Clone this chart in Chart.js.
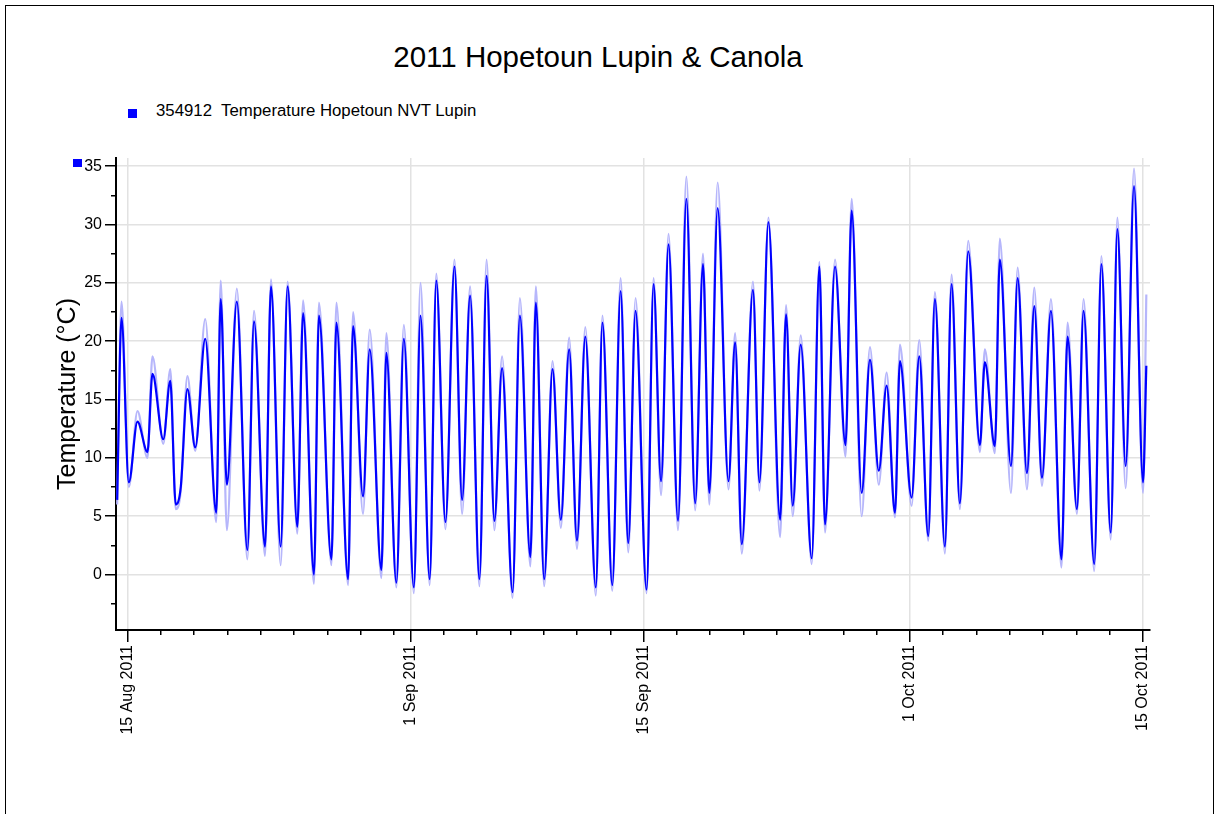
<!DOCTYPE html>
<html>
<head>
<meta charset="utf-8">
<title>2011 Hopetoun Lupin &amp; Canola</title>
<script src="https://cdn.jsdelivr.net/npm/chart.js@4.4.1/dist/chart.umd.min.js"></script>
<style>
    body { margin: 0; background: #fff; font-family: "Liberation Sans", Arial, sans-serif; }
    #page { position: relative; width: 1219px; height: 814px; overflow: hidden; }
    #frame { position: absolute; left: 5px; top: 5px; width: 1207px; height: 900px;
             border-left: 1px solid #000; border-top: 1px solid #000; border-right: 1px solid #000; }
    #title { position: absolute; left: 0; top: 42px; width: 1196px; text-align: center;
             font-size: 29.5px; line-height: 30px; color: #000; }
    #legend { position: absolute; left: 128px; top: 101px; font-size: 16.8px; line-height: 20px; color: #000; white-space: pre; }
    #legend .box { position: absolute; left: 0; top: 8px; width: 9px; height: 9px; background: #0000ff; }
    #legend .txt { position: absolute; left: 28px; top: 0; }
    #axis-marker { position: absolute; left: 73px; top: 159px; width: 9px; height: 8px; background: #0000ff; }
    #chart { position: absolute; left: 0; top: 0; }
</style>
</head>
<body>
<div id="page">
    <div id="frame"></div>
    <div id="title">2011 Hopetoun Lupin &amp; Canola</div>
    <div id="legend"><span class="box"></span><span class="txt">354912  Temperature Hopetoun NVT Lupin</span></div>
    <canvas id="chart" width="1219" height="814"></canvas>
    <div id="axis-marker"></div>
</div>
<script>
// time of each reading, in days after 15 Aug 2011 00:00
const dayTimes = [
    -0.62, -0.36, 0.08, 0.6, 1.2, 1.5, 2.15, 2.57, 2.9, 3.2, 3.6, 4.07, 4.67, 5.33, 5.6, 5.97,
    6.57, 7.2, 7.6, 8.26, 8.62, 9.2, 9.62, 10.2, 10.55, 11.2, 11.5, 12.25, 12.55, 13.25, 13.55,
    14.15, 14.55, 15.25, 15.55, 16.15, 16.6, 17.2, 17.6, 18.15, 18.55, 19.1, 19.64, 20.1, 20.58,
    21.14, 21.57, 22.04, 22.5, 23.13, 23.57, 24.2, 24.53, 25.03, 25.53, 26.03, 26.53, 27.0, 27.5,
    28.13, 28.53, 29.12, 29.62, 30.08, 30.52, 31.18, 31.6, 32.05, 32.5, 33.07, 33.57, 34.1, 34.57,
    34.95, 35.45, 36.1, 36.5, 36.9, 37.57, 37.96, 38.5, 39.2, 39.56, 39.96, 40.44, 41.1, 41.56,
    41.9, 42.5, 43.13, 43.5, 44.1, 44.6, 45.13, 45.6, 46.1, 46.4, 47.1, 47.56, 48.1, 48.5, 49.1,
    49.5, 50.0, 50.5, 51.2, 51.5, 52.1, 52.4, 53.07, 53.47, 54.03, 54.47, 54.93, 55.47, 56.1,
    56.47, 57.03, 57.43, 58.07, 58.5, 59.06, 59.46, 59.96, 60.46, 61.0, 61.2
];

// temperature (°C), dark blue trace
const tempValues = [
    6.4, 22.0, 7.9, 13.1, 10.5, 17.2, 11.6, 16.6, 6.0, 7.5, 15.9, 10.9, 20.2, 5.3, 23.6, 7.7,
    23.4, 2.1, 21.7, 2.4, 24.7, 2.4, 24.7, 4.1, 22.4, 0.0, 22.2, 1.3, 21.6, -0.4, 21.3,
    6.7, 19.3, 0.4, 19.0, -0.7, 20.2, -1.1, 22.2, -0.4, 25.2, 4.5, 26.4, 6.4, 23.9,
    -0.4, 25.6, 4.6, 17.7, -1.5, 22.2, 1.5, 23.3, -0.4, 17.6, 4.7, 19.3, 2.9, 20.4,
    -1.1, 21.6, -0.9, 24.3, 2.7, 22.6, -1.3, 24.9, 8.0, 28.3, 4.6, 32.2, 6.1, 26.6,
    7.0, 31.4, 8.0, 19.9, 2.6, 24.4, 7.9, 30.2, 4.7, 22.3, 5.9, 19.7, 1.4, 26.4,
    4.3, 26.4, 11.1, 31.2, 7.0, 18.4, 8.9, 16.2, 5.3, 18.3, 6.6, 18.7, 3.3, 23.6, 2.4,
    24.9, 6.1, 27.7, 11.1, 18.2, 11.0, 27.0, 9.3, 25.4, 8.7, 23.0, 8.3, 22.6, 1.3,
    20.4, 5.6, 22.6, 0.9, 26.6, 3.6, 29.6, 9.3, 33.3, 7.9, 17.9
];

// faint trace around it (°C)
const tempSpread = [
    6.0, 23.4, 7.5, 14.0, 10.0, 18.7, 11.2, 17.6, 5.6, 7.2, 17.0, 10.6, 21.9, 4.5, 25.2, 3.8,
    24.5, 1.3, 22.6, 1.6, 25.3, 0.8, 25.1, 3.5, 23.5, -0.8, 23.3, 0.8, 23.3, -0.9, 22.5,
    5.2, 21.0, -0.3, 20.7, -1.1, 21.4, -1.6, 25.0, -0.9, 25.8, 3.9, 27.0, 5.2, 24.7,
    -1.0, 27.0, 3.8, 18.7, -2.0, 23.7, 0.7, 24.7, -1.0, 18.3, 4.0, 20.3, 2.2, 21.2,
    -1.8, 22.2, -1.4, 25.4, 1.9, 23.7, -1.6, 25.4, 6.8, 29.2, 3.8, 34.1, 5.5, 27.5,
    6.0, 33.6, 7.3, 20.7, 1.8, 25.1, 7.2, 30.6, 3.2, 23.1, 5.0, 20.5, 0.9, 26.8,
    3.6, 27.0, 10.1, 32.2, 5.0, 19.5, 7.7, 17.3, 4.9, 19.7, 5.9, 20.1, 2.9, 24.2, 1.8,
    25.7, 5.6, 28.6, 10.5, 19.3, 10.4, 28.8, 7.0, 26.3, 7.3, 24.6, 7.6, 23.6, 0.6,
    21.6, 5.2, 23.6, 0.3, 27.3, 3.0, 30.6, 7.4, 34.8, 7.0, 24.0
];

// x axis ticks (days after 15 Aug 2011)
const majorDays = [0, 17, 31, 47, 61];
const majorLabels = ["15 Aug 2011", "1 Sep 2011", "15 Sep 2011", "1 Oct 2011", "15 Oct 2011"];
const minorDays = [2, 4, 6, 8, 10, 12, 14, 16, 19, 21, 23, 25, 27, 29, 33, 35, 37, 39, 41, 43, 45,
                   49, 51, 53, 55, 57, 59];

// y axis ticks
const yTickValues = [-2.5, 0, 2.5, 5, 7.5, 10, 12.5, 15, 17.5, 20, 22.5, 25, 27.5, 30, 32.5, 35];

const tickFont = { family: "'Liberation Sans', Arial, sans-serif", size: 16 };
const gridGrey = "#e2e2e2";

function isMajorDay(v) {
    return majorDays.indexOf(v) !== -1;
}

function isMajorY(v) {
    return Math.abs(v % 5) < 0.001;
}

const xTickValues = majorDays.concat(minorDays).sort((a, b) => a - b);

const chart = new Chart(document.getElementById("chart").getContext("2d"), {
    type: "line",
    data: {
        datasets: [
            {
                label: "354912 Temperature Hopetoun NVT Lupin",
                data: dayTimes.map((t, i) => ({ x: t, y: tempValues[i] })),
                borderColor: "#0000ff",
                borderWidth: 2.2,
                pointRadius: 0,
                cubicInterpolationMode: "monotone",
                fill: false
            },
            {
                label: "spread",
                data: dayTimes.map((t, i) => ({ x: t, y: tempSpread[i] })),
                borderColor: "#b6b6fb",
                borderWidth: 2.2,
                pointRadius: 0,
                cubicInterpolationMode: "monotone",
                fill: false
            }
        ]
    },
    options: {
        responsive: false,
        animation: false,
        devicePixelRatio: 1,
        layout: { padding: { top: 158, right: 69, left: 0, bottom: 0 } },
        plugins: {
            legend: { display: false },
            tooltip: { enabled: false },
            title: { display: false }
        },
        scales: {
            x: {
                type: "linear",
                min: -0.69,
                max: 61.42,
                afterBuildTicks: (scale) => {
                    scale.ticks = xTickValues.map((v) => ({ value: v }));
                },
                afterFit: (scale) => {
                    scale.height = 184;
                },
                ticks: {
                    autoSkip: false,
                    minRotation: 90,
                    maxRotation: 90,
                    padding: 3,
                    color: "#000",
                    font: tickFont,
                    callback: (value) => {
                        const i = majorDays.indexOf(value);
                        return i === -1 ? "" : majorLabels[i];
                    }
                },
                grid: {
                    color: (ctx) => (ctx.tick && isMajorDay(ctx.tick.value) ? gridGrey : "rgba(0,0,0,0)"),
                    lineWidth: 1.5,
                    tickColor: "#000",
                    tickWidth: 1.5,
                    tickLength: 12,
                    tickBorderDash: (ctx) => (ctx.tick && isMajorDay(ctx.tick.value) ? [] : [4, 100])
                },
                border: { color: "#000", width: 2 }
            },
            y: {
                type: "linear",
                min: -4.75,
                max: 35.7,
                afterBuildTicks: (scale) => {
                    scale.ticks = yTickValues.map((v) => ({ value: v }));
                },
                afterFit: (scale) => {
                    scale.width = 116;
                },
                ticks: {
                    padding: 3,
                    color: "#000",
                    font: tickFont,
                    callback: (value) => (isMajorY(value) ? String(value) : "")
                },
                grid: {
                    color: (ctx) => (ctx.tick && isMajorY(ctx.tick.value) ? gridGrey : "rgba(0,0,0,0)"),
                    lineWidth: 1.5,
                    tickColor: "#000",
                    tickWidth: 1.5,
                    tickLength: 11,
                    tickBorderDash: (ctx) => (ctx.tick && isMajorY(ctx.tick.value) ? [] : [0, 6, 5, 100])
                },
                border: { color: "#000", width: 2 },
                title: {
                    display: true,
                    text: "Temperature (°C)",
                    color: "#000",
                    font: { family: "'Liberation Sans', Arial, sans-serif", size: 25 },
                    padding: { top: 53, bottom: 0 }
                }
            }
        }
    }
});
</script>
</body>
</html>
